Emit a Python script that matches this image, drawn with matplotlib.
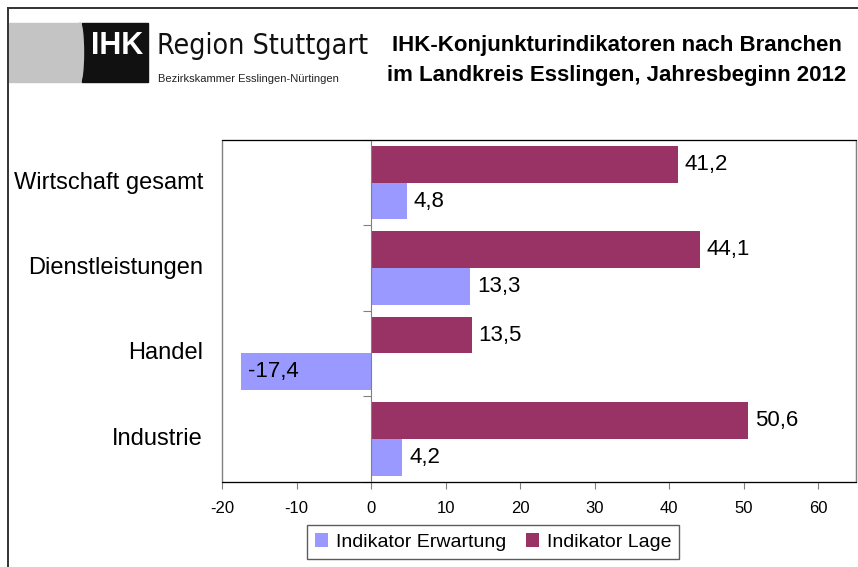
import matplotlib.pyplot as plt
import matplotlib.transforms as mtransforms
from matplotlib.patches import Rectangle, Ellipse
from matplotlib.lines import Line2D

plt.rcParams['font.family'] = ['Liberation Sans', 'DejaVu Sans']
plt.rcParams['axes.unicode_minus'] = False

categories = ['Wirtschaft gesamt', 'Dienstleistungen', 'Handel', 'Industrie']
lage = [41.2, 44.1, 13.5, 50.6]
erwartung = [4.8, 13.3, -17.4, 4.2]
xticks = [-20, -10, 0, 10, 20, 30, 40, 50, 60]

col_lage = '#993366'
col_erw = '#9999FF'

W, H = 858, 567
fig = plt.figure(figsize=(W / 100, H / 100), dpi=100)

# frame lines of the page
fig.add_artist(Line2D([8 / W, 1], [1 - 8 / H, 1 - 8 / H], color='#333333', lw=1.4))
fig.add_artist(Line2D([8 / W, 8 / W], [0, 1 - 8 / H], color='#333333', lw=1.4))

# logo
fig.add_artist(Rectangle((0, 1 - 95 / H), 380 / W, 77 / H, color='white', transform=fig.transFigure))
fig.add_artist(Rectangle((9 / W, 1 - 82 / H), 73 / W, 59 / H, color='#c4c4c4', transform=fig.transFigure))
fig.add_artist(Rectangle((82 / W, 1 - 82 / H), 66 / W, 59 / H, color='#111111', transform=fig.transFigure))
fig.add_artist(Ellipse((80 / W, 1 - 52.5 / H), 7 / W, 59 / H, color='#c4c4c4', transform=fig.transFigure))
fig.text(117 / W, 1 - 46 / H, 'IHK', color='white', fontsize=22, fontweight='bold', ha='center', va='center')
fig.text(157 / W, 1 - 46 / H, 'Region Stuttgart', fontsize=20.5, ha='left', va='center',
         family='DejaVu Sans', fontstretch='condensed', color='#111111')
fig.text(158 / W, 1 - 78.5 / H, 'Bezirkskammer Esslingen-Nürtingen', fontsize=8, ha='left', va='center',
         color='#222222')

# title
fig.text(617 / W, 1 - 45 / H, 'IHK-Konjunkturindikatoren nach Branchen', fontsize=16,
         fontweight='bold', ha='center', va='center')
fig.text(617 / W, 1 - 75 / H, 'im Landkreis Esslingen, Jahresbeginn 2012', fontsize=16,
         fontweight='bold', ha='center', va='center')

ax = fig.add_axes([222 / W, 1 - 481.5 / H, 634 / W, 341.5 / H])
n = len(categories)
ypos = [n - 1 - i for i in range(n)]
h = 0.43
ax.barh([y + h / 2 for y in ypos], lage, height=h, color=col_lage, label='Indikator Lage')
ax.barh([y - h / 2 for y in ypos], erwartung, height=h, color=col_erw, label='Indikator Erwartung')

def fmt(v):
    return f'{v:.1f}'.replace('.', ',')

for y, v in zip(ypos, lage):
    ax.annotate(fmt(v), (v, y + h / 2), xytext=(5, 0), textcoords='offset points',
                ha='left', va='center', fontsize=16)
for y, v in zip(ypos, erwartung):
    ax.annotate(fmt(v), (v, y - h / 2), xytext=(5, 0), textcoords='offset points',
                ha='left', va='center', fontsize=16)

ax.set_xlim(-20, 65.1)
ax.set_ylim(-0.5, n - 0.5)
ax.set_xticks(xticks)
ax.set_xticklabels([str(t) for t in xticks], fontsize=12)
ax.tick_params(axis='x', direction='out', length=5, color='#808080', pad=9)

ax.spines['left'].set_position(('data', 0))
ax.spines['left'].set_color('#808080')
ax.spines['right'].set_color('#808080')
ax.spines['top'].set_color('black')
ax.spines['bottom'].set_color('black')
ax.set_yticks([i - 0.5 for i in range(n + 1)])
ax.set_yticklabels([])
ax.tick_params(axis='y', direction='out', length=6, color='#808080')
ax.patch.set_edgecolor('#808080')
ax.patch.set_linewidth(1.0)

trans = mtransforms.blended_transform_factory(ax.transAxes, ax.transData)
for y, c in zip(ypos, categories):
    ax.text(-0.03, y, c, transform=trans, ha='right', va='center', fontsize=17)

handles, labels = ax.get_legend_handles_labels()
leg = fig.legend(handles[::-1], labels[::-1], loc='center', bbox_to_anchor=(493 / W, 1 - 542 / H),
                 ncol=2, fontsize=14, frameon=True, fancybox=False, handlelength=0.7,
                 handleheight=0.7, handletextpad=0.4, columnspacing=1.0, borderpad=0.4)
leg.get_frame().set_edgecolor('#333333')
leg.get_frame().set_linewidth(1.0)

fig.savefig('out.png', dpi=100)
